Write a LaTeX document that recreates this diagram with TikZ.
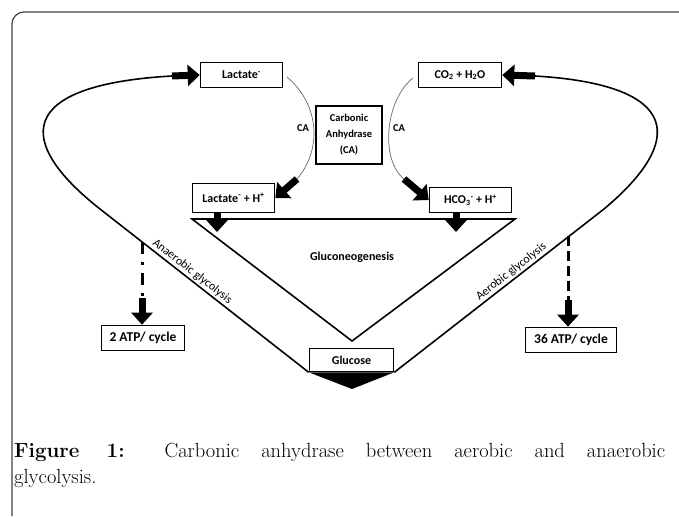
\documentclass[tikz,border=0pt]{standalone}
\usepackage{fontspec}
\newfontfamily\carlito{Carlito}
\usetikzlibrary{arrows.meta}
\tikzset{
  box/.style={draw, line width=1.6pt, minimum height=25pt, inner sep=2pt, font=\carlito\bfseries\fontsize{12}{14}\selectfont},
  atpbox/.style={box, font=\carlito\bfseries\fontsize{13.5}{15}\selectfont},
  fatarrow/.style={line width=7pt, -{Triangle[width=21pt,length=12pt]}},
  loopline/.style={line width=1.6pt},
  arcline/.style={line width=0.7pt, black!60},
  calbl/.style={font=\carlito\bfseries\fontsize{10.5}{12}\selectfont},
  slopelbl/.style={font=\carlito\fontsize{12}{14}\selectfont, sloped, above, inner sep=1.5pt},
}

\begin{document}
\begin{tikzpicture}[x=1pt,y=-1pt]
    \useasboundingbox (0,0) rectangle (679,516);
    \draw[line width=1.2pt, black!75, rounded corners=12pt] (12,516) -- (12,12) -- (679,12);

    \node[box, minimum width=82pt] (lac) at (241.5,75) {Lactate\textsuperscript{-}};
    \node[box, minimum width=83pt] (co2) at (460,75) {CO\textsubscript{2} + H\textsubscript{2}O};
    \node[box, minimum width=66pt, minimum height=58pt, align=center, font=\carlito\bfseries\fontsize{10.5}{16}\selectfont] (ca) at (349,135) {Carbonic\\Anhydrase\\(CA)};
    \node[box, minimum width=82pt, minimum height=29pt] (lacH) at (233.5,198) {Lactate\textsuperscript{-} + H\textsuperscript{+}};
    \node[box, minimum width=82pt] (hco) at (470.5,200) {HCO\textsubscript{3}\textsuperscript{-} + H\textsuperscript{+}};
    \node[box, minimum width=84pt, minimum height=23pt] (glu) at (351.5,360) {Glucose};
    \node[atpbox, minimum width=83pt] (atpA) at (143,338) {2 ATP/ cycle};
    \node[atpbox, minimum width=91pt] (atpB) at (571,340) {36 ATP/ cycle};
    \node[font=\carlito\bfseries\fontsize{12}{14}\selectfont] (gng) at (352,257) {Gluconeogenesis};

    \coordinate (tl) at (192,219);
    \coordinate (tr) at (515,219);
    \coordinate (tb) at (352,341);
    \draw[loopline] (tl) -- (tr) -- (tb) -- cycle;

    \coordinate (dA) at (217,232);
    \coordinate (dB) at (456,232);
    \draw[fatarrow] (lacH.south -| dA) -- (dA);
    \draw[fatarrow] (hco.south -| dB) -- (dB);

    \coordinate (lin) at (172,76);
    \coordinate (rin) at (535,76);
    \draw[fatarrow] (lin) -- (lac.west);
    \draw[fatarrow] (rin) -- (co2.east);
    \draw[loopline] (glu.south west) -- node[slopelbl, pos=0.58] {Anaerobic glycolysis} (100,209) .. controls (15,142) and (15,85) .. (lin);
    \draw[loopline] (glu.south east) -- node[slopelbl, pos=0.58] {Aerobic glycolysis} (604,209) .. controls (684,142) and (684,85) .. (rin);

    \coordinate (aTop) at (142,242);
    \coordinate (aMid) at (142,298);
    \draw[line width=3pt, dash pattern=on 12pt off 8pt on 3pt off 8pt] (aTop) -- (aMid);
    \draw[fatarrow] (aMid) -- (aMid |- atpA.north);
    \coordinate (bTop) at (568,236);
    \coordinate (bMid) at (568,300);
    \draw[line width=3pt, dash pattern=on 10pt off 5pt] (bTop) -- (bMid);
    \draw[fatarrow] (bMid) -- (bMid |- atpB.north);

    \coordinate (arcLa) at (287,77);
    \coordinate (arcLb) at (297,179);
    \draw[arcline] (arcLa) .. controls (320,105) and (322,150) .. (arcLb);
    \draw[fatarrow] (arcLb) -- (lacH.east);
    \node[calbl] (caL) at (303,128) {CA};
    \coordinate (arcRa) at (413,78);
    \coordinate (arcRb) at (404,179);
    \draw[arcline] (arcRa) .. controls (385,100) and (380,160) .. (arcRb);
    \draw[fatarrow] (arcRb) -- (hco.west);
    \node[calbl] (caR) at (399,128) {CA};

    \coordinate (gtip) at (352,389);
    \fill (glu.south west) -- (glu.south east) -- (gtip) -- cycle;

    \node[anchor=north west, text width=651pt, align=justify, inner sep=0pt, font=\fontsize{20.5}{26}\selectfont] (cap) at (14,443) {\textbf{Figure 1:} Carbonic anhydrase between aerobic and anaerobic\linebreak glycolysis.};
\end{tikzpicture}
\end{document}
